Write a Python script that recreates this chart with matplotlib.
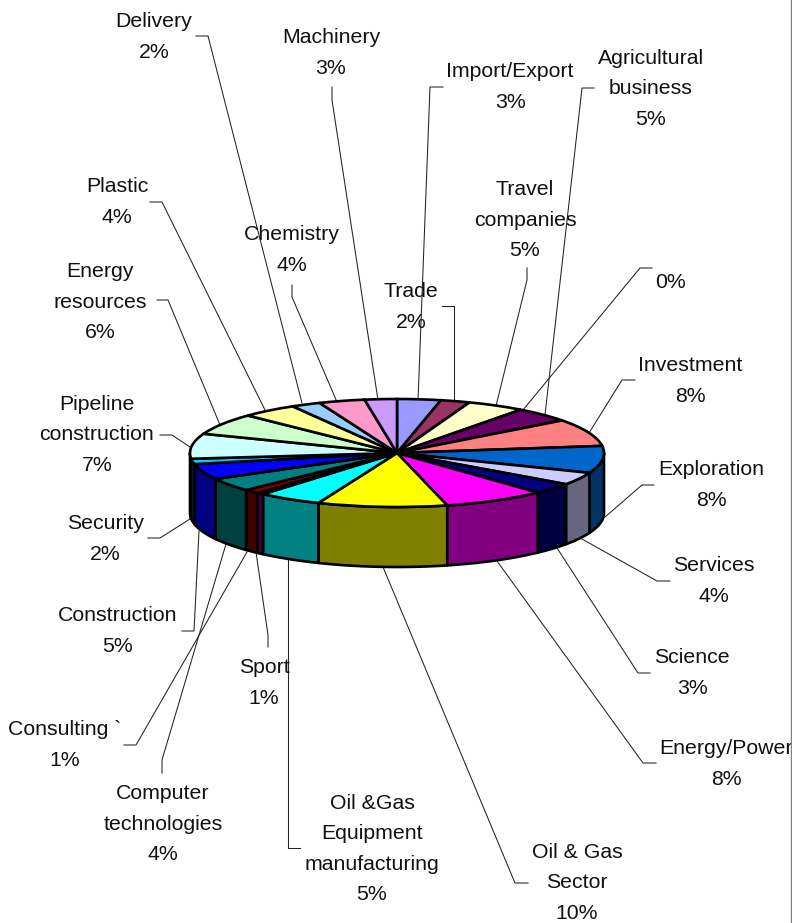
import numpy as np
import matplotlib
matplotlib.use('Agg')
import matplotlib.pyplot as plt
from matplotlib.colors import to_rgb
from matplotlib.transforms import Affine2D

plt.rcParams['font.family'] = ['Liberation Sans', 'DejaVu Sans']

# sectors, clockwise from 12 o'clock
sectors = ['Import/Export', 'Trade', 'Travel\ncompanies', 'Agricultural\nbusiness', '',
           'Investment', 'Exploration', 'Services', 'Science', 'Energy/Power',
           'Oil & Gas\nSector', 'Oil &Gas\nEquipment\nmanufacturing', 'Sport', 'Consulting `',
           'Computer\ntechnologies', 'Construction', 'Security', 'Pipeline\nconstruction',
           'Energy\nresources', 'Plastic', 'Delivery', 'Chemistry', 'Machinery']
shares = [3.4, 2.3, 4.5, 4.5, 0.0, 8.2, 8.1, 3.8, 3.3, 8.0, 10.1, 5.0, 0.55, 1.25,
          4.0, 4.7, 1.6, 7.5, 6.4, 4.4, 2.3, 3.6, 2.5]
percents = ['3%', '2%', '5%', '5%', '0%', '8%', '8%', '4%', '3%', '8%', '10%', '5%', '1%', '1%',
            '4%', '5%', '2%', '7%', '6%', '4%', '2%', '4%', '3%']
colors = ['#9999FF', '#993366', '#FFFFCC', '#660066', '#CCFFFF', '#FF8080', '#0066CC', '#CCCCFF',
          '#000080', '#FF00FF', '#FFFF00', '#00FFFF', '#800080', '#800000', '#008080', '#0000FF',
          '#00CCFF', '#CCFFFF', '#CCFFCC', '#FFFF99', '#99CCFF', '#FF99CC', '#CC99FF']

# label centre in pixels, then the leader line
label_pos = [(510, 87), (411, 307), (525, 220), (651, 89), (671, 283), (690, 381), (711, 485),
             (714, 581), (692, 673), (726, 764), (577, 883), (372, 849), (264, 683), (65, 745),
             (163, 824), (118, 631), (105, 539), (97, 435), (100, 302), (117, 202), (154, 37),
             (292, 250), (331, 53)]
leaders = [[(443, 87), (430, 87), (418, 401)],
           [(442, 306), (454, 306), (454, 402)],
           [(527, 268), (527, 280), (496, 406)],
           [(594, 88), (582, 88), (545, 415)],
           [(652, 268), (640, 268), (523, 410)],
           [(635, 380), (622, 380), (589, 433)],
           [(654, 485), (642, 485), (605, 517)],
           [(670, 581), (657, 581), (582, 539)],
           [(650, 673), (638, 673), (557, 548)],
           [(656, 763), (643, 763), (497, 561)],
           [(528, 883), (515, 883), (383, 567)],
           [(300, 848), (288, 848), (288, 560)],
           [(268, 647), (268, 635), (256, 552)],
           [(124, 745), (136, 745), (247, 552)],
           [(162, 773), (162, 760), (226, 544)],
           [(182, 631), (194, 631), (199, 531)],
           [(148, 538), (160, 538), (190, 519)],
           [(160, 435), (172, 435), (190, 447)],
           [(157, 300), (168, 300), (220, 425)],
           [(150, 202), (162, 202), (266, 412)],
           [(196, 36), (208, 36), (302, 403)],
           [(292, 285), (292, 297), (337, 402)],
           [(332, 87), (332, 100), (378, 400)]]

W, H = 792, 923
cx, cy, rx, ry = 397, 453, 207, 54
depth = 60 / ry

fig = plt.figure(figsize=(W / 100, H / 100), dpi=100)
ax = fig.add_axes([0, 0, 1, 1])
px = Affine2D().scale(1, -1).translate(0, H)

for pts in leaders:
    xs, ys = zip(*pts)
    ax.plot(xs, ys, color='#222222', lw=0.75, transform=px, zorder=1, clip_on=False)

# top face, squashed into an ellipse by the axes limits
ax.pie(shares, colors=colors, startangle=90, counterclock=False, radius=1,
       wedgeprops=dict(edgecolor='black', linewidth=1.9), frame=True)
ax.set_aspect('auto')
ax.set_xlim(-cx / rx, (W - cx) / rx)
ax.set_ylim((cy - H) / ry, cy / ry)
for p in ax.patches:
    p.set_zorder(4)

# side wall of the slices on the front half
edges = np.cumsum([0] + shares) * 3.6
for i, col in enumerate(colors):
    a0, a1 = max(edges[i], 90), min(edges[i + 1], 270)
    if a1 <= a0:
        continue
    t = np.radians(np.linspace(a0, a1, 40))
    x = np.sin(t)
    y = np.cos(t)
    dark = [c / 2 for c in to_rgb(col)]
    ax.fill(np.r_[x, x[::-1]], np.r_[y, y[::-1] - depth], facecolor=dark,
            edgecolor='black', linewidth=1.9, zorder=3, joinstyle='round')

for name, pct, pos in zip(sectors, percents, label_pos):
    txt = name + '\n' + pct if name else pct
    ax.text(pos[0], pos[1], txt, transform=px, ha='center', va='center', fontsize=15.3,
            linespacing=1.74, color='#111111', zorder=6, clip_on=True)

ax.plot([791, 791], [0, H], color='#808080', lw=1, transform=px, zorder=7, clip_on=False)
ax.axis('off')
fig.savefig('out.png', dpi=100)
